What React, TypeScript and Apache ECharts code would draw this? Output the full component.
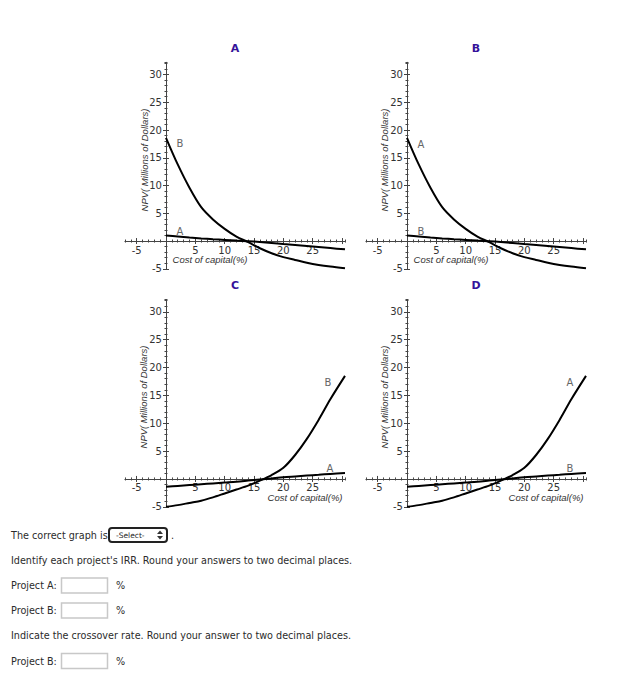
import React, { useEffect, useRef } from 'react';
import * as echarts from 'echarts';

// Cost of capital (%) sample points
const rates = [0, 2, 4, 6, 8, 10, 12, 14, 16, 18, 20, 22, 24, 26, 28, 30.5];
// NPV (millions of dollars)
const steepFalling = [18.6, 13.8, 9.6, 6.1, 3.9, 2.2, 0.8, -0.2, -1.3, -2.2, -2.9, -3.4, -3.9, -4.3, -4.6, -4.9];
const flatFalling = [1.0, 0.82, 0.64, 0.47, 0.32, 0.2, 0.08, -0.03, -0.18, -0.36, -0.55, -0.73, -0.91, -1.09, -1.27, -1.5];
const steepRising = [-5.0, -4.7, -4.3, -3.9, -3.3, -2.6, -1.9, -1.2, -0.3, 0.7, 2.0, 4.3, 7.2, 10.6, 14.3, 18.5];
const flatRising = [-1.4, -1.25, -1.1, -0.95, -0.8, -0.65, -0.5, -0.3, -0.1, 0.1, 0.3, 0.45, 0.6, 0.75, 0.9, 1.05];

const panelTitles = ['A', 'B', 'C', 'D'];
const steepNames = ['B', 'A', 'B', 'A'];
const flatNames = ['A', 'B', 'A', 'B'];
const xTickLabels = [-5, 5, 10, 15, 20, 25];
const xMajorTicks = [-5, 5, 10, 15, 20, 25, 30];
const yTickLabels = [-5, 5, 10, 15, 20, 25, 30];
const yMajorTicks = [-5, 5, 10, 15, 20, 25, 30];
const xTitle = 'Cost of capital(%)';
const yTitle = 'NPV( Millions of Dollars)';

const X_MIN = -7;
const X_MAX = 30.5;
const Y_MIN = -5;
const Y_MAX = 32.2;

const AXIS_COLOR = '#444';
const LABEL_FONT = 'DejaVu Sans';

const panels = [
  { left: 124.9, top: 62.3, width: 220.1, height: 206.5, title: [235, 48], steepLbl: [180, 143], flatLbl: [180, 231], yT: [144, 160], xT: [210, 259] },
  { left: 365.9, top: 62.3, width: 220.1, height: 206.5, title: [476, 48], steepLbl: [421, 144], flatLbl: [421, 231], yT: [384, 160], xT: [451, 259] },
  { left: 124.9, top: 299.6, width: 220.1, height: 207.2, title: [235, 285], steepLbl: [328, 382], flatLbl: [330, 468], yT: [143, 397], xT: [305, 497] },
  { left: 365.9, top: 299.6, width: 220.1, height: 207.2, title: [476, 285], steepLbl: [570, 382], flatLbl: [570, 468], yT: [384, 397], xT: [546, 497] },
];

function buildOption() {
  const grid: any[] = [];
  const xAxis: any[] = [];
  const yAxis: any[] = [];
  const series: any[] = [];
  const graphic: any[] = [];

  panels.forEach((p, g) => {
    grid.push({ left: p.left, top: p.top, width: p.width, height: p.height });
    const xi = g * 4;
    // place the axes where the other axis is zero
    const xOffset = -(0 - Y_MIN) * p.height / (Y_MAX - Y_MIN);
    const yOffset = -(0 - X_MIN) * p.width / (X_MAX - X_MIN);
    const xBase = {
      type: 'value', gridIndex: g, min: X_MIN, max: X_MAX, position: 'bottom', offset: xOffset,
      splitLine: { show: false },
      axisLine: { show: false, onZero: false },
      axisLabel: { show: false },
      axisTick: { show: false },
    };
    const yBase = {
      type: 'value', gridIndex: g, min: Y_MIN, max: Y_MAX, position: 'left', offset: yOffset,
      splitLine: { show: false },
      axisLine: { show: false, onZero: false },
      axisLabel: { show: false },
      axisTick: { show: false },
    };
    const tickStyle = { color: AXIS_COLOR, width: 1 };
    xAxis.push(
      {
        ...xBase,
        axisLine: { show: true, onZero: false, lineStyle: { color: AXIS_COLOR, width: 1 } },
        axisTick: { show: true, customValues: xMajorTicks, length: 3, inside: false, lineStyle: tickStyle },
        axisLabel: { show: true, customValues: xTickLabels, margin: 4, fontSize: 10, color: '#333', fontFamily: LABEL_FONT },
      },
      { ...xBase, axisTick: { show: true, customValues: xMajorTicks, length: 3, inside: true, lineStyle: tickStyle } },
      { ...xBase, interval: 1, axisTick: { show: true, length: 1.5, inside: false, lineStyle: tickStyle } },
      { ...xBase, interval: 1, axisTick: { show: true, length: 1.5, inside: true, lineStyle: tickStyle } },
    );
    yAxis.push(
      {
        ...yBase,
        axisLine: { show: true, onZero: false, lineStyle: { color: AXIS_COLOR, width: 1 } },
        axisTick: { show: true, customValues: yMajorTicks, length: 3, inside: false, lineStyle: tickStyle },
        axisLabel: { show: true, customValues: yTickLabels, margin: 4, fontSize: 10, color: '#333', fontFamily: LABEL_FONT },
      },
      { ...yBase, axisTick: { show: true, customValues: yMajorTicks, length: 3, inside: true, lineStyle: tickStyle } },
      { ...yBase, interval: 1, axisTick: { show: true, length: 1.5, inside: false, lineStyle: tickStyle } },
      { ...yBase, interval: 1, axisTick: { show: true, length: 1.5, inside: true, lineStyle: tickStyle } },
    );
    const rising = g >= 2;
    const steep = rising ? steepRising : steepFalling;
    const flat = rising ? flatRising : flatFalling;
    [steep, flat].forEach((vals, k) => {
      series.push({
        type: 'line',
        name: `${panelTitles[g]}-${k === 0 ? steepNames[g] : flatNames[g]}`,
        xAxisIndex: xi,
        yAxisIndex: xi,
        data: rates.map((r, i) => [r, vals[i]]),
        symbol: 'none',
        smooth: 0.3,
        lineStyle: { color: '#000', width: 2 },
        z: 5,
      });
    });

    graphic.push(
      { type: 'text', x: p.title[0], y: p.title[1], style: { text: panelTitles[g], fontSize: 11, fontWeight: 'bold', fontFamily: LABEL_FONT, fill: '#35139a', align: 'center', verticalAlign: 'middle' } },
      { type: 'text', x: p.steepLbl[0], y: p.steepLbl[1], style: { text: steepNames[g], fontSize: 10, fontFamily: LABEL_FONT, fill: '#666', align: 'center', verticalAlign: 'middle' } },
      { type: 'text', x: p.flatLbl[0], y: p.flatLbl[1], style: { text: flatNames[g], fontSize: 10, fontFamily: LABEL_FONT, fill: '#666', align: 'center', verticalAlign: 'middle' } },
      { type: 'text', x: p.yT[0], y: p.yT[1], rotation: Math.PI / 2, style: { text: yTitle, fontSize: 9.5, fontStyle: 'italic', fontFamily: 'Liberation Sans', fill: '#333', align: 'center', verticalAlign: 'middle' } },
      { type: 'text', x: p.xT[0], y: p.xT[1], style: { text: xTitle, fontSize: 9.5, fontStyle: 'italic', fontFamily: 'Liberation Sans', fill: '#333', align: 'center', verticalAlign: 'middle' } },
    );
  });

  // Form below the charts
  const textStyle = (text: string) => ({ text, fontSize: 9.65, fontFamily: LABEL_FONT, fill: '#2b2b2b', align: 'left', verticalAlign: 'middle' });
  graphic.push(
    { type: 'text', x: 11, y: 535, style: textStyle('The correct graph is') },
    { type: 'rect', shape: { x: 109, y: 528, width: 58, height: 14, r: 3 }, style: { fill: '#fff', stroke: '#222', lineWidth: 2 } },
    { type: 'text', x: 116, y: 535, style: { text: '-Select-', fontSize: 7.5, fontFamily: LABEL_FONT, fill: '#222', align: 'left', verticalAlign: 'middle' } },
    { type: 'polygon', shape: { points: [[157, 534], [163, 534], [160, 530.5]] }, style: { fill: '#333' } },
    { type: 'polygon', shape: { points: [[157, 536], [163, 536], [160, 539.5]] }, style: { fill: '#333' } },
    { type: 'text', x: 171, y: 535, style: textStyle('.') },
    { type: 'text', x: 11, y: 560, style: textStyle("Identify each project's IRR. Round your answers to two decimal places.") },
    { type: 'text', x: 11, y: 585.7, style: textStyle('Project A:') },
    { type: 'rect', shape: { x: 61.5, y: 578, width: 46, height: 15 }, style: { fill: '#fff', stroke: '#c8c8c8', lineWidth: 1.5 } },
    { type: 'text', x: 116, y: 585.7, style: textStyle('%') },
    { type: 'text', x: 11, y: 610.7, style: textStyle('Project B:') },
    { type: 'rect', shape: { x: 61.5, y: 603, width: 46, height: 15 }, style: { fill: '#fff', stroke: '#c8c8c8', lineWidth: 1.5 } },
    { type: 'text', x: 116, y: 610.7, style: textStyle('%') },
    { type: 'text', x: 11, y: 635.7, style: textStyle('Indicate the crossover rate. Round your answer to two decimal places.') },
    { type: 'text', x: 11, y: 661, style: textStyle('Project B:') },
    { type: 'rect', shape: { x: 61.5, y: 653.5, width: 46, height: 15 }, style: { fill: '#fff', stroke: '#c8c8c8', lineWidth: 1.5 } },
    { type: 'text', x: 116, y: 661, style: textStyle('%') },
  );

  return { animation: false, backgroundColor: '#fff', grid, xAxis, yAxis, series, graphic };
}

export default function App() {
  const ref = useRef<HTMLDivElement>(null);
  useEffect(() => {
    if (!ref.current) return;
    const chart = echarts.init(ref.current, null, { renderer: 'svg' });
    chart.setOption(buildOption() as any);
    return () => chart.dispose();
  }, []);
  return <div ref={ref} style={{ position: 'fixed', left: 0, top: 0, width: 627, height: 678 }} />;
}
